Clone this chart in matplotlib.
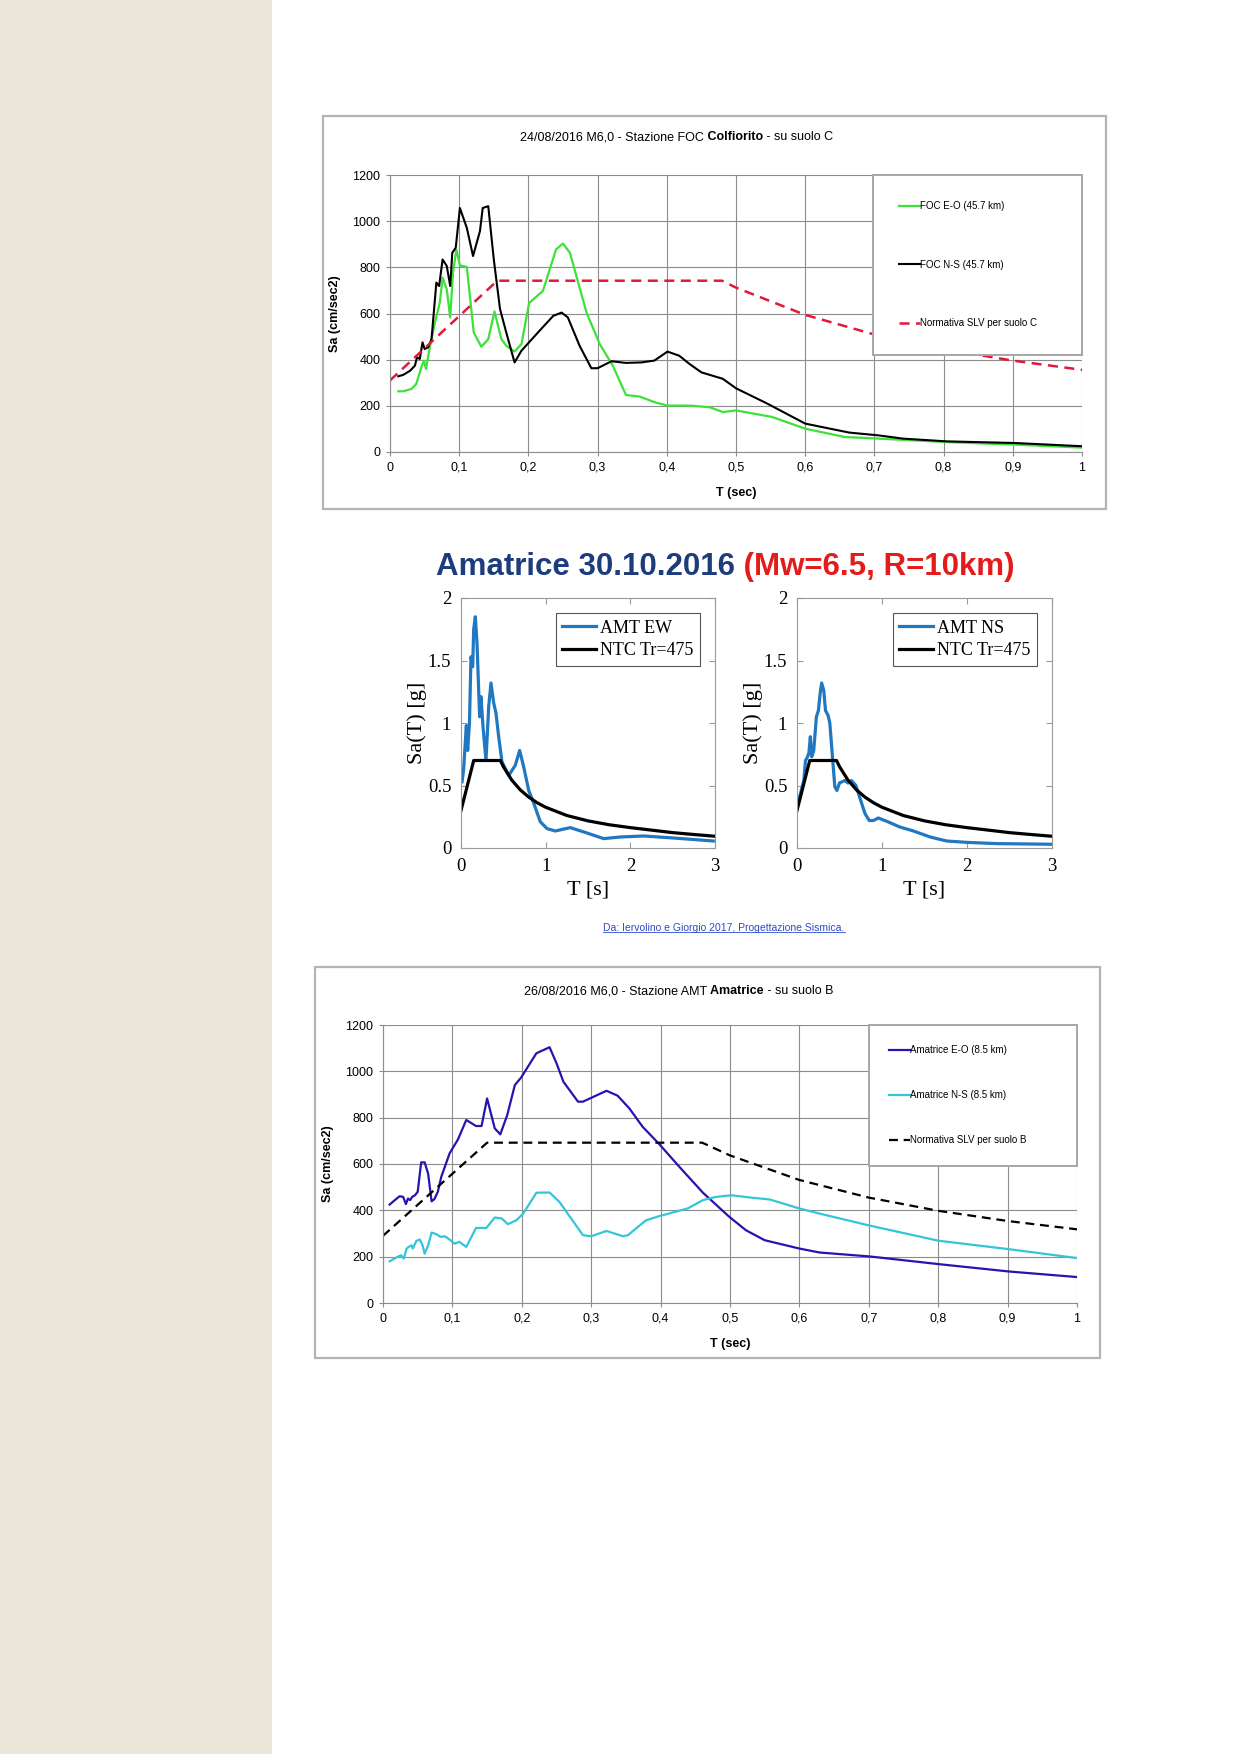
import matplotlib
matplotlib.use("Agg")
import matplotlib.pyplot as plt
from matplotlib.patches import Rectangle
from matplotlib.lines import Line2D
from matplotlib.text import Annotation
from matplotlib.ticker import FuncFormatter, MultipleLocator

W, H = 1240, 1754

# ---- top chart: 24/08/2016 FOC Colfiorito (cm/sec2) ----
foc_eo_t = [0.012, 0.019, 0.031, 0.038, 0.046, 0.049, 0.052, 0.058, 0.065, 0.072,
            0.076, 0.082, 0.087, 0.091, 0.096, 0.101, 0.111, 0.118, 0.121, 0.132,
            0.142, 0.151, 0.161, 0.168, 0.18, 0.19, 0.201, 0.221, 0.24, 0.25,
            0.26, 0.284, 0.303, 0.322, 0.341, 0.361, 0.382, 0.401, 0.433, 0.462,
            0.481, 0.5, 0.552, 0.6, 0.657, 0.706, 0.805, 0.903, 1.0]
foc_eo_sa = [263, 263, 273, 295, 374, 396, 360, 460, 561, 647,
             755, 705, 583, 777, 877, 808, 802, 604, 518, 456,
             489, 609, 489, 460, 435, 468, 645, 698, 878, 903,
             863, 604, 468, 374, 247, 240, 216, 201, 201, 194,
             173, 180, 152, 101, 65, 58, 43, 32, 19]
foc_ns_t = [0.012, 0.019, 0.029, 0.036, 0.039, 0.043, 0.047, 0.05, 0.055, 0.06,
            0.067, 0.071, 0.076, 0.082, 0.087, 0.09, 0.095, 0.101, 0.111, 0.12,
            0.13, 0.134, 0.142, 0.15, 0.159, 0.168, 0.18, 0.19, 0.216, 0.236,
            0.248, 0.257, 0.274, 0.291, 0.3, 0.32, 0.341, 0.363, 0.382, 0.401,
            0.418, 0.433, 0.45, 0.481, 0.5, 0.545, 0.6, 0.636, 0.664, 0.706,
            0.741, 0.805, 0.903, 1.0]
foc_ns_sa = [328, 334, 352, 374, 410, 403, 475, 446, 453, 489,
             734, 719, 834, 806, 719, 863, 885, 1057, 971, 849,
             957, 1057, 1065, 834, 619, 518, 388, 439, 525, 590,
             604, 583, 460, 363, 363, 393, 386, 388, 396, 435,
             417, 381, 345, 317, 276, 210, 123, 101, 84, 72,
             58, 46, 39, 25]
slv_c_t = [0, 0.155, 0.48, 0.5, 0.6, 0.7, 0.8, 0.9, 1.0]
slv_c_sa = [310, 742, 742, 712, 594, 509, 445, 396, 356]

# ---- middle chart: Amatrice 30.10.2016 (g) ----
amt_ew_t = [0.012, 0.03, 0.063, 0.079, 0.1, 0.118, 0.138, 0.15, 0.169, 0.189,
            0.22, 0.236, 0.26, 0.295, 0.327, 0.354, 0.386, 0.413, 0.445, 0.484,
            0.563, 0.64, 0.693, 0.74, 0.8, 0.858, 0.937, 1.016, 1.114, 1.29,
            1.488, 1.685, 1.88, 2.157, 2.51, 2.98]
amt_ew_sa = [0.53, 0.62, 0.98, 0.78, 1.0, 1.53, 1.45, 1.75, 1.85, 1.64,
             1.05, 1.21, 0.97, 0.70, 1.13, 1.32, 1.16, 1.08, 0.89, 0.69,
             0.58, 0.66, 0.78, 0.65, 0.46, 0.36, 0.21, 0.155, 0.136, 0.163,
             0.12, 0.075, 0.088, 0.096, 0.08, 0.056]
amt_ns_t = [0.012, 0.05, 0.08, 0.1, 0.118, 0.14, 0.157, 0.173, 0.197, 0.228,
            0.252, 0.276, 0.29, 0.315, 0.335, 0.366, 0.386, 0.417, 0.445, 0.47,
            0.5, 0.563, 0.6, 0.64, 0.693, 0.74, 0.8, 0.85, 0.9, 0.956,
            1.055, 1.21, 1.37, 1.567, 1.76, 2.0, 2.35, 3.0]
amt_ns_sa = [0.36, 0.46, 0.54, 0.70, 0.72, 0.76, 0.89, 0.73, 0.78, 1.05,
             1.10, 1.26, 1.32, 1.26, 1.10, 1.06, 1.0, 0.73, 0.49, 0.46,
             0.52, 0.54, 0.52, 0.54, 0.50, 0.40, 0.275, 0.22, 0.22, 0.24,
             0.214, 0.168, 0.136, 0.088, 0.056, 0.045, 0.035, 0.03]
ntc_t = [0, 0.15, 0.465, 0.5, 0.6, 0.7, 0.8, 0.9, 1.0, 1.25, 1.5, 1.75, 2.0,
         2.25, 2.5, 2.75, 3.0]
ntc_sa = [0.30, 0.70, 0.70, 0.651, 0.543, 0.465, 0.407, 0.362, 0.326, 0.26,
          0.217, 0.186, 0.163, 0.143, 0.123, 0.108, 0.094]

# ---- bottom chart: 26/08/2016 AMT Amatrice (cm/sec2) ----
ama_eo_t = [0.0096, 0.017, 0.024, 0.029, 0.033, 0.036, 0.039, 0.042, 0.046, 0.05,
            0.055, 0.06, 0.065, 0.07, 0.074, 0.079, 0.084, 0.096, 0.108, 0.12,
            0.134, 0.142, 0.15, 0.161, 0.169, 0.179, 0.19, 0.199, 0.221, 0.24,
            0.25, 0.26, 0.281, 0.288, 0.322, 0.338, 0.355, 0.374, 0.398, 0.427,
            0.461, 0.499, 0.523, 0.55, 0.6, 0.629, 0.701, 0.8, 0.902, 1.0]
ama_eo_sa = [425, 444, 461, 458, 427, 451, 444, 458, 465, 480,
             607, 607, 559, 439, 448, 480, 545, 646, 706, 790,
             764, 764, 883, 754, 728, 811, 941, 973, 1078, 1104,
             1035, 955, 869, 869, 916, 895, 840, 761, 686, 588,
             476, 372, 314, 271, 235, 218, 201, 168, 136, 112]
ama_ns_t = [0.0096, 0.019, 0.026, 0.03, 0.034, 0.037, 0.041, 0.043, 0.048, 0.053,
            0.057, 0.06, 0.065, 0.07, 0.077, 0.083, 0.089, 0.096, 0.103, 0.11,
            0.12, 0.134, 0.149, 0.161, 0.171, 0.18, 0.192, 0.202, 0.221, 0.24,
            0.254, 0.288, 0.3, 0.322, 0.346, 0.353, 0.379, 0.398, 0.439, 0.461,
            0.48, 0.502, 0.533, 0.557, 0.6, 0.629, 0.7, 0.8, 0.9, 1.0]
ama_ns_sa = [180, 196, 206, 192, 235, 242, 249, 235, 268, 274,
             249, 213, 249, 304, 297, 285, 288, 274, 256, 264,
             242, 324, 324, 369, 365, 340, 357, 386, 476, 477,
             437, 293, 288, 311, 288, 293, 357, 375, 408, 444,
             458, 465, 454, 447, 408, 386, 335, 269, 233, 194]
slv_b_t = [0, 0.15, 0.46, 0.5, 0.6, 0.7, 0.8, 0.9, 1.0]
slv_b_sa = [290, 692, 692, 637, 531, 455, 398, 354, 318]

SANS = 'Liberation Sans'
SERIF = 'Liberation Serif'
GRID = '#8c8c8c'


def px_box(x0, y0, x1, y1):
    """Pixel box (top-left origin) to figure fraction rect."""
    return [x0 / W, 1 - y1 / H, (x1 - x0) / W, (y1 - y0) / H]


def chart_frame(fig, x0, y0, x1, y1):
    fig.add_artist(Rectangle((x0 / W, 1 - y1 / H), (x1 - x0) / W, (y1 - y0) / H,
                             transform=fig.transFigure, fill=False,
                             edgecolor='#b4b4b4', lw=1.6))


def rich_text(fig, x, y, pieces, size, family):
    """Write text pieces one after another, each with its own weight/colour."""
    prev = None
    for txt, weight, color in pieces:
        if prev is None:
            prev = fig.text(x / W, 1 - y / H, txt, ha='left', va='center',
                            fontsize=size, fontweight=weight, color=color,
                            family=family)
        else:
            ann = Annotation(txt, xy=(1, 0), xycoords=prev, ha='left',
                             va='bottom', fontsize=size, fontweight=weight,
                             color=color, family=family)
            fig.add_artist(ann)
            prev = ann


def excel_axes(ax):
    ax.set_xlim(0, 1)
    ax.set_ylim(0, 1200)
    ax.xaxis.set_major_locator(MultipleLocator(0.1))
    ax.yaxis.set_major_locator(MultipleLocator(200))
    ax.xaxis.set_major_formatter(
        FuncFormatter(lambda v, p: ('%g' % round(v, 1)).replace('.', ',')))
    ax.grid(True, color=GRID, lw=0.8)
    ax.set_axisbelow(True)
    for side in ('top', 'right'):
        ax.spines[side].set_visible(False)
    for side in ('left', 'bottom'):
        ax.spines[side].set_color(GRID)
    ax.tick_params(labelsize=9, length=3, color=GRID, pad=4)
    for lab in ax.get_xticklabels() + ax.get_yticklabels():
        lab.set_family(SANS)
    ax.set_xlabel('T (sec)', fontsize=9, fontweight='bold', family=SANS)
    ax.set_ylabel('Sa (cm/sec2)', fontsize=9, fontweight='bold', family=SANS)
    ax.xaxis.set_label_coords(0.5, -0.125)
    ax.yaxis.set_label_coords(-0.071, 0.5)


def excel_legend(ax, x0, spacing, pad):
    leg = ax.legend(loc='upper left', bbox_to_anchor=(x0, 0, 1 - x0, 1.0),
                    mode='expand', borderaxespad=0, fontsize=7,
                    handlelength=2.1, handletextpad=0, labelspacing=spacing,
                    borderpad=pad, fancybox=False, framealpha=1,
                    prop={'family': SANS, 'size': 7})
    leg.get_frame().set_edgecolor('#a6a6a6')
    leg.get_frame().set_linewidth(1.4)


def matlab_axes(ax):
    ax.set_xlim(0, 3)
    ax.set_ylim(0, 2)
    ax.set_xticks([0, 1, 2, 3])
    ax.set_yticks([0, 0.5, 1, 1.5, 2])
    ax.set_yticklabels(['0', '0.5', '1', '1.5', '2'])
    ax.tick_params(direction='in', top=True, right=True, length=4,
                   color='#9a9a9a', labelsize=13.5, pad=7)
    for lab in ax.get_xticklabels() + ax.get_yticklabels():
        lab.set_family(SERIF)
    for sp in ax.spines.values():
        sp.set_color('#9a9a9a')
        sp.set_linewidth(0.8)
    ax.set_xlabel('T [s]', fontsize=16, family=SERIF)
    ax.set_ylabel('Sa(T) [g]', fontsize=16, family=SERIF)
    ax.xaxis.set_label_coords(0.5, -0.13)
    ax.yaxis.set_label_coords(-0.132, 0.5)
    leg = ax.legend(loc='upper right', handlelength=1.9,
                    handletextpad=0.2, labelspacing=0.32, borderpad=0.35,
                    borderaxespad=0.85, fancybox=False, framealpha=1,
                    prop={'family': SERIF, 'size': 13})
    leg.get_frame().set_edgecolor('#555555')
    leg.get_frame().set_linewidth(0.8)


fig = plt.figure(figsize=(W / 100, H / 100), dpi=100)
fig.patch.set_facecolor('white')

# beige side band
fig.add_artist(Rectangle((0, 0), 272 / W, 1, transform=fig.transFigure,
                         facecolor='#eae6da', edgecolor='none'))

# ---- top chart ----
chart_frame(fig, 323, 116, 1106, 509)
ax1 = fig.add_axes(px_box(390, 175, 1082, 452))
ax1.plot(foc_eo_t, foc_eo_sa, color='#3ee03a', lw=1.6, label='FOC E-O (45.7 km)')
ax1.plot(foc_ns_t, foc_ns_sa, color='black', lw=1.5, label='FOC N-S (45.7 km)')
ax1.plot(slv_c_t, slv_c_sa, color='#e2183c', lw=1.8, ls=(0, (4, 2.6)),
         label='Normativa SLV per suolo C')
excel_axes(ax1)
excel_legend(ax1, (873 - 390) / 692, 5.0, 2.7)
rich_text(fig, 520, 137, [('24/08/2016 M6,0 - Stazione FOC', 'normal', 'black'),
                          (' Colfiorito', 'bold', 'black'),
                          (' - su suolo C', 'normal', 'black')], 9, SANS)

# ---- middle chart ----
rich_text(fig, 436, 567, [('Amatrice 30.10.2016', 'bold', '#1d3c7c'),
                          (' (Mw=6.5, R=10km)', 'bold', '#e41b1b')], 22.5, SANS)
ax2 = fig.add_axes(px_box(461, 598, 715, 848))
ax2.plot(amt_ew_t, amt_ew_sa, color='#1f78c1', lw=2.3, label='AMT EW')
ax2.plot(ntc_t, ntc_sa, color='black', lw=2.3, label='NTC Tr=475')
matlab_axes(ax2)
ax3 = fig.add_axes(px_box(797, 598, 1052, 848))
ax3.plot(amt_ns_t, amt_ns_sa, color='#1f78c1', lw=2.3, label='AMT NS')
ax3.plot(ntc_t, ntc_sa, color='black', lw=2.3, label='NTC Tr=475')
matlab_axes(ax3)
src = fig.text(724 / W, 1 - 928 / H,
               'Da: Iervolino e Giorgio 2017, Progettazione Sismica.',
               ha='center', va='center', fontsize=7.5, color='#2d4bc8',
               family=SANS)

# ---- bottom chart ----
chart_frame(fig, 315, 967, 1100, 1358)
ax4 = fig.add_axes(px_box(383, 1025, 1077, 1303))
ax4.plot(ama_eo_t, ama_eo_sa, color='#2514b0', lw=1.6, label='Amatrice E-O (8.5 km)')
ax4.plot(ama_ns_t, ama_ns_sa, color='#33c5d8', lw=1.6, label='Amatrice N-S (8.5 km)')
ax4.plot(slv_b_t, slv_b_sa, color='black', lw=1.6, ls=(0, (4, 2.6)),
         label='Normativa SLV per suolo B')
excel_axes(ax4)
excel_legend(ax4, (869 - 383) / 694, 3.6, 2.1)
rich_text(fig, 524, 991, [('26/08/2016 M6,0 - Stazione AMT', 'normal', 'black'),
                          (' Amatrice', 'bold', 'black'),
                          (' - su suolo B', 'normal', 'black')], 9, SANS)

# underline the source note
fig.canvas.draw()
bb = src.get_window_extent()
fig.add_artist(Line2D([bb.x0 / W, bb.x1 / W], [(bb.y0 + 1) / H, (bb.y0 + 1) / H],
                      transform=fig.transFigure, color='#2d4bc8', lw=0.6))

fig.savefig('out.png', dpi=100)
